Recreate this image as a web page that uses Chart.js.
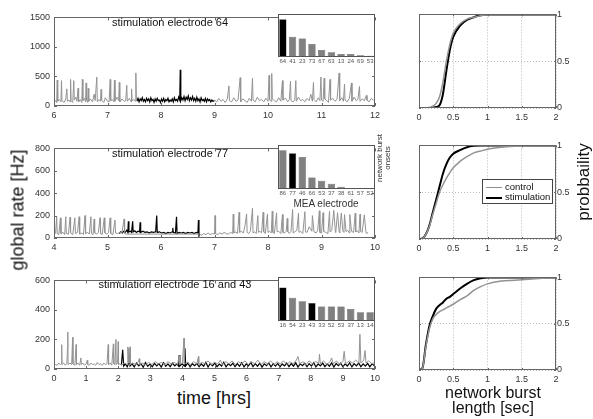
<!DOCTYPE html>
<html>
<head>
<meta charset="utf-8">
<script src="https://cdn.jsdelivr.net/npm/chart.js@4"></script>
<style>
body { margin: 0; background: #fff; width: 593px; height: 419px; overflow: hidden; position: relative; font-family: "Liberation Sans", Arial, sans-serif; }
canvas { position: absolute; }
.lbl { position: absolute; white-space: nowrap; color: #111; }
.rot { transform: translate(-50%, -50%) rotate(-90deg); text-align: center; }
.ctr { transform: translate(-50%, -50%); text-align: center; }
</style>
</head>
<body>
<canvas id="rate1" width="385" height="114" style="left:0;top:8px"></canvas>
<canvas id="rate2" width="385" height="115" style="left:0;top:139px"></canvas>
<canvas id="rate3" width="385" height="114" style="left:0;top:271px"></canvas>
<canvas id="bars1" width="110" height="55" style="left:270px;top:12px"></canvas>
<canvas id="bars2" width="110" height="56" style="left:270px;top:143px"></canvas>
<canvas id="bars3" width="110" height="56" style="left:270px;top:275px"></canvas>
<canvas id="cdf1" width="193" height="116" style="left:400px;top:8px"></canvas>
<canvas id="cdf2" width="193" height="116" style="left:400px;top:139px"></canvas>
<canvas id="cdf3" width="193" height="115" style="left:400px;top:271px"></canvas>

<div class="lbl ctr" style="left:170px;top:22px;font-size:11px">stimulation electrode 64</div>
<div class="lbl ctr" style="left:170px;top:153px;font-size:11px">stimulation electrode 77</div>
<div class="lbl ctr" style="left:175px;top:284px;font-size:11px">stimulation electrode 16 and 43</div>
<div class="lbl rot" style="left:18px;top:210px;font-size:18px">global rate [Hz]</div>
<div class="lbl ctr" style="left:214px;top:398px;font-size:18px">time [hrs]</div>
<div class="lbl ctr" style="left:326px;top:203px;font-size:10px;color:#333">MEA electrode</div>
<div class="lbl rot" style="left:384px;top:158px;font-size:8px;line-height:8px;color:#333">network burst<br>onsets</div>
<div class="lbl rot" style="left:584px;top:182px;font-size:17px">probbaility</div>
<div class="lbl ctr" style="left:493px;top:400px;font-size:16px;line-height:15px">network burst<br>length [sec]</div>
<div class="lbl" style="left:482px;top:179px;width:69px;height:23px;border:1px solid #444;background:#fff;font-size:9.5px">
  <div style="position:absolute;left:3px;top:7px;width:16px;height:0;border-top:1.5px solid #8c8c8c"></div>
  <div style="position:absolute;left:22px;top:1px">control</div>
  <div style="position:absolute;left:3px;top:17px;width:16px;height:0;border-top:2px solid #000"></div>
  <div style="position:absolute;left:22px;top:11px">stimulation</div>
</div>

<script>
// global network rate, electrode 64 session (hours, Hz)
const ctrlTime1 = [6.00,6.03,6.05,6.06,6.07,6.10,6.13,6.14,6.15,6.19,6.22,6.24,6.25,6.28,6.30,6.31,6.32,6.35,6.37,6.38,6.41,6.43,6.45,6.46,6.49,6.52,6.53,6.54,6.57,6.59,6.60,6.61,6.63,6.64,6.65,6.68,6.72,6.75,6.77,6.80,6.81,6.84,6.87,6.88,6.89,6.93,6.96,7.00,7.03,7.05,7.06,7.09,7.12,7.13,7.14,7.18,7.21,7.22,7.23,7.27,7.31,7.34,7.36,7.37,7.41,7.44,7.45,7.46,7.50,7.52,7.53,7.54,7.55,
  9.00,9.04,9.08,9.12,9.16,9.20,9.24,9.27,9.28,9.32,9.36,9.40,9.44,9.48,9.49,9.53,9.57,9.61,9.65,9.69,9.71,9.72,9.76,9.80,9.84,9.88,9.92,9.96,10.00,10.02,10.03,10.06,10.07,10.08,10.12,10.16,10.20,10.24,10.27,10.28,10.33,10.37,10.40,10.42,10.43,10.47,10.50,10.52,10.53,10.57,10.61,10.65,10.69,10.73,10.77,10.80,10.83,10.85,10.86,10.90,10.94,10.97,10.99,11.00,11.03,11.05,11.06,11.10,11.13,11.16,11.17,11.21,11.25,11.29,11.33,11.34,11.38,11.41,11.43,11.44,11.48,11.52,11.56,11.57,11.61,11.65,11.68,11.71,11.72,11.76,11.80,11.84,11.85,11.89,11.93,11.97,12.00];
const ctrlRate1 = [70,90,60,440,80,110,70,430,90,60,120,290,80,100,70,450,90,60,430,100,150,80,300,70,110,60,450,90,130,70,390,100,60,300,80,120,70,200,90,490,70,110,80,280,100,60,140,80,70,450,90,110,70,440,80,150,90,400,70,120,80,90,350,80,130,70,290,90,110,80,560,100,null,
  100,70,130,80,110,60,120,340,90,70,140,80,100,480,70,120,90,60,130,80,470,100,70,150,90,110,70,130,80,520,100,80,550,120,90,70,140,80,430,100,130,70,110,420,90,70,100,430,80,150,90,110,70,130,90,200,80,400,110,70,140,90,490,100,80,470,120,90,60,450,100,130,80,110,560,90,140,80,370,100,70,130,390,80,150,90,110,330,80,120,90,180,100,70,130,100,80];
const stimTime1 = [7.55,7.57,7.59,7.61,7.63,7.65,7.67,7.69,7.71,7.73,7.75,7.77,7.79,7.81,7.83,7.85,7.87,7.89,7.91,7.93,7.95,7.97,7.99,8.01,8.03,8.05,8.07,8.09,8.11,8.13,8.15,8.17,8.19,8.21,8.23,8.25,8.27,8.29,8.31,8.33,8.35,8.36,8.37,8.39,8.41,8.43,8.45,8.47,8.49,8.51,8.53,8.55,8.57,8.59,8.61,8.63,8.65,8.67,8.69,8.71,8.73,8.75,8.77,8.79,8.81,8.83,8.85,8.87,8.89,8.91,8.93,8.95,8.97,9.00];
const stimRate1 = [80,130,70,120,90,140,80,110,70,130,90,120,70,140,90,110,60,120,80,130,90,100,60,120,80,130,70,110,90,130,70,100,80,120,70,140,90,110,80,150,100,615,90,140,100,160,90,150,110,170,90,140,100,160,90,130,80,150,90,120,70,140,90,110,80,130,70,120,90,110,70,100,80,90];

// electrode 77 session
const ctrlTime2 = [4.00,4.03,4.05,4.06,4.09,4.12,4.13,4.17,4.20,4.22,4.23,4.27,4.30,4.31,4.35,4.39,4.40,4.44,4.47,4.48,4.52,4.55,4.58,4.59,4.63,4.66,4.69,4.70,4.73,4.75,4.76,4.80,4.83,4.86,4.87,4.90,4.94,4.95,4.99,5.02,5.05,5.06,5.10,5.14,5.15,5.19,5.23,5.27,5.31,5.32,5.35,
  6.72,6.76,6.80,6.84,6.88,6.92,6.96,7.00,7.01,7.02,7.06,7.10,7.14,7.18,7.22,7.26,7.30,7.34,7.35,7.36,7.40,7.43,7.46,7.47,7.50,7.54,7.57,7.60,7.61,7.64,7.67,7.71,7.72,7.75,7.78,7.81,7.82,7.85,7.88,7.91,7.92,7.95,7.99,8.00,8.03,8.06,8.08,8.09,8.12,8.16,8.17,8.20,8.24,8.27,8.28,8.31,8.34,8.36,8.37,8.40,8.43,8.46,8.47,8.50,8.54,8.57,8.58,8.61,8.65,8.69,8.70,8.73,8.77,8.82,8.83,8.86,8.90,8.93,8.96,8.97,9.00,9.03,9.04,9.08,9.12,9.15,9.16,9.19,9.23,9.26,9.27,9.30,9.33,9.34,9.37,9.40,9.42,9.43,9.46,9.49,9.52,9.53,9.56,9.60,9.63,9.64,9.67,9.70,9.72,9.73,9.76,9.80,9.83,9.84,9.87,9.91,9.92,9.96,10.00];
const ctrlRate2 = [30,45,190,40,30,180,40,50,30,190,40,35,185,45,30,180,40,50,190,35,45,30,200,40,50,35,190,40,30,170,45,35,50,180,40,30,180,45,35,50,180,40,30,160,45,40,50,45,170,40,35,
  35,25,40,30,45,30,40,35,200,40,30,45,35,50,40,35,50,40,212,45,55,40,230,50,60,45,110,215,50,40,60,265,45,55,40,200,50,60,45,230,55,40,215,50,60,45,240,50,40,225,55,60,40,210,50,45,60,175,55,40,60,255,45,55,70,222,50,60,40,235,55,50,100,60,200,55,45,70,243,50,45,226,60,50,40,238,55,65,246,50,70,226,55,45,222,60,50,209,55,70,45,209,60,50,222,55,65,45,212,60,50,206,55,40,50];
const stimTime2 = [5.22,5.25,5.28,5.30,5.33,5.36,5.38,5.39,5.40,5.43,5.45,5.47,5.48,5.51,5.54,5.57,5.60,5.61,5.62,5.66,5.70,5.74,5.78,5.82,5.86,5.90,5.92,5.93,5.97,6.01,6.05,6.09,6.13,6.17,6.21,6.22,6.23,6.27,6.29,6.30,6.34,6.38,6.42,6.46,6.50,6.54,6.58,6.62,6.66,6.69,6.70,6.71,6.72];
const stimRate2 = [40,55,45,60,50,70,50,150,55,60,50,150,55,65,50,60,55,140,50,60,50,55,45,55,50,55,200,50,55,45,50,40,50,45,55,90,50,45,190,40,50,45,50,40,50,45,50,40,50,45,160,20,40];

// electrodes 16 and 43 session
const ctrlTime3 = [0.00,0.05,0.10,0.15,0.20,0.23,0.24,0.25,0.30,0.35,0.40,0.42,0.43,0.44,0.50,0.55,0.58,0.59,0.65,0.69,0.70,0.75,0.80,0.84,0.85,0.90,0.95,1.00,1.04,1.05,1.10,1.15,1.20,1.25,1.30,1.35,1.40,1.45,1.50,1.55,1.60,1.65,1.69,1.70,1.75,1.80,1.85,1.86,1.90,1.93,1.94,1.98,2.00,2.01,2.05,2.10,2.20,2.28,2.30,2.32,2.33,2.35,2.37,2.38,2.45,2.55,2.62,2.66,2.67,2.75,2.85,2.95,3.05,3.15,3.25,3.35,3.45,3.55,3.65,3.75,3.85,3.90,3.91,4.00,4.05,4.06,4.15,4.25,4.35,4.45,4.50,4.51,4.60,4.70,4.80,4.90,5.00,5.10,5.18,5.25,5.35,5.45,5.55,5.65,5.75,5.85,5.95,6.05,6.15,6.25,6.35,6.45,6.55,6.65,6.75,6.85,6.95,7.05,7.15,7.25,7.35,7.45,7.55,7.60,7.65,7.75,7.85,7.95,8.05,8.15,8.25,8.27,8.30,8.40,8.50,8.60,8.65,8.70,8.80,8.90,9.00,9.04,9.08,9.20,9.30,9.40,9.50,9.53,9.56,9.65,9.69,9.72,9.80,9.90,10.00];
const ctrlRate3 = [20,30,25,40,30,35,165,30,40,25,35,140,250,30,40,30,215,35,25,165,30,40,25,75,30,40,25,35,60,30,25,40,30,35,25,45,30,35,25,40,30,35,165,30,40,25,170,35,30,200,30,40,185,30,35,25,40,30,150,40,140,40,150,30,40,30,45,70,30,40,30,45,30,50,35,45,30,50,35,45,30,90,30,40,210,35,45,30,50,35,85,30,45,35,55,30,45,35,60,30,50,35,55,30,50,35,55,30,50,35,60,30,50,35,55,30,50,35,55,30,50,35,60,85,35,50,30,55,35,50,40,100,35,55,30,50,75,35,55,30,50,120,35,55,40,60,40,235,40,60,125,40,55,35,45];
const stimTime3 = [2.10,2.14,2.17,2.22,2.28,2.33,2.35,2.37,2.43,2.50,2.57,2.64,2.71,2.78,2.85,2.92,2.99,3.06,3.13,3.20,3.27,3.34,3.41,3.48,3.55,3.62,3.69,3.76,3.83,3.88,3.90,3.92,3.99,4.06,4.08,4.10,4.17,4.24,4.31,4.38,4.45,4.52,4.59,4.66,4.73,4.80,4.87,4.94,5.01,5.08,5.15,5.22,5.29,5.36,5.43,5.50,5.57,5.64,5.71,5.78,5.85,5.92,5.99,6.06,6.13,6.20,6.27,6.34,6.41,6.48,6.55,6.62,6.69,6.76,6.83,6.90,6.97,7.04,7.11,7.18,7.25,7.32,7.39,7.46,7.53,7.60,7.67,7.74,7.81,7.88,7.95,8.02,8.09,8.16,8.23,8.30,8.37,8.44,8.51,8.58,8.65,8.72,8.79,8.86,8.93,9.00,9.07,9.14,9.21,9.28,9.35,9.42,9.49,9.56,9.63,9.70,9.77,9.84,9.91,9.98,10.00];
const stimRate3 = [30,130,20,35,15,40,100,20,35,14,41,22,36,12,44,19,33,15,38,21,36,13,42,18,35,16,40,21,34,20,95,20,35,20,140,20,41,14,36,22,38,15,34,19,45,13,37,21,40,16,33,20,46,14,35,22,39,15,37,18,42,14,34,21,45,16,36,19,40,13,35,22,41,15,36,20,38,14,34,21,40,16,37,19,42,13,35,22,39,15,36,20,43,14,34,21,40,16,35,19,41,13,37,22,39,15,34,20,42,14,36,21,40,16,35,19,38,14,36,20,30];

// network burst onsets per MEA electrode
const onsetElec1 = ['64','41','23','73','67','63','13','24','69','53'];
const onsetCount1 = [88,47,43,30,16,11,7,7,4,3];
const stimElec1 = ['64'];
const onsetElec2 = ['86','77','46','66','53','37','38','61','57','52'];
const onsetCount2 = [88,81,73,26,19,12,5,2,2,2];
const stimElec2 = ['77'];
const onsetElec3 = ['16','54','23','43','33','52','53','37','13','14'];
const onsetCount3 = [76,53,45,41,33,33,33,27,20,20];
const stimElec3 = ['16','43'];

// cumulative distribution of network burst length (sec)
const burstLen = [0,0.05,0.1,0.15,0.2,0.25,0.3,0.35,0.4,0.45,0.5,0.6,0.7,0.8,0.9,1.0,1.2,1.4,1.6,1.8,2.0];
const cdfCtrl1 = [0,0,0,0.005,0.02,0.05,0.12,0.28,0.5,0.68,0.8,0.9,0.95,0.97,0.985,0.995,1,1,1,1,1];
const cdfStim1 = [0,0,0,0,0.005,0.01,0.03,0.15,0.4,0.62,0.76,0.88,0.94,0.97,0.99,1,1,1,1,1,1];
const cdfCtrl2 = [0,0.005,0.05,0.13,0.26,0.38,0.5,0.58,0.65,0.71,0.76,0.83,0.88,0.92,0.94,0.96,0.98,0.99,0.995,1,1];
const cdfStim2 = [0,0.005,0.05,0.14,0.28,0.42,0.56,0.7,0.8,0.87,0.91,0.95,0.98,0.995,1,1,1,1,1,1,1];
const cdfCtrl3 = [0,0.02,0.25,0.44,0.55,0.6,0.63,0.65,0.67,0.69,0.71,0.76,0.8,0.86,0.9,0.93,0.96,0.97,0.98,0.99,1];
const cdfStim3 = [0,0.02,0.27,0.47,0.58,0.66,0.7,0.73,0.77,0.79,0.82,0.88,0.93,0.97,0.99,1,1,1,1,1,1];

const GRAY = '#939393';
const GRID = '#b8b8b8';
const FONT = 'Liberation Sans, Arial, sans-serif';
const plain = v => String(v);

// box around the plot area with inward tick marks, optional white fill
const framePlugin = {
  id: 'frame',
  beforeDraw(chart, args, opts) {
    if (!opts.fill) return;
    const { ctx, chartArea: a } = chart;
    ctx.save();
    ctx.fillStyle = opts.fill;
    ctx.fillRect(a.left, a.top, a.right - a.left, a.bottom - a.top);
    ctx.restore();
  },
  afterDraw(chart, args, opts) {
    const { ctx, chartArea: a, scales } = chart;
    ctx.save();
    ctx.strokeStyle = opts.color || '#666';
    ctx.lineWidth = 1;
    ctx.strokeRect(Math.round(a.left) + 0.5, Math.round(a.top) + 0.5, Math.round(a.right - a.left) - 1, Math.round(a.bottom - a.top) - 1);
    const L = opts.tickLen || 0;
    if (L) {
      ctx.beginPath();
      scales.x.ticks.forEach((t, i) => {
        const px = Math.round(scales.x.getPixelForTick(i)) + 0.5;
        ctx.moveTo(px, a.bottom); ctx.lineTo(px, a.bottom - L);
        ctx.moveTo(px, a.top); ctx.lineTo(px, a.top + L);
      });
      scales.y.ticks.forEach((t, i) => {
        const py = Math.round(scales.y.getPixelForTick(i)) + 0.5;
        ctx.moveTo(a.left, py); ctx.lineTo(a.left + L, py);
        ctx.moveTo(a.right, py); ctx.lineTo(a.right - L, py);
      });
      ctx.stroke();
    }
    ctx.restore();
  }
};

function pts(xs, ys) {
  return xs.map((x, i) => ({ x: x, y: ys[i] }));
}

function rateChart(id, ctrlT, ctrlR, stimT, stimR, xmin, xmax, ymax, ystep) {
  new Chart(document.getElementById(id), {
    type: 'line',
    data: {
      datasets: [
        { data: pts(ctrlT, ctrlR), borderColor: GRAY, borderWidth: 1 },
        { data: pts(stimT, stimR), borderColor: '#000', borderWidth: 1.2 }
      ]
    },
    options: {
      responsive: false,
      animation: false,
      parsing: false,
      spanGaps: false,
      elements: { point: { radius: 0 }, line: { tension: 0 } },
      layout: { padding: { left: 0, right: 10, top: 6, bottom: 0 } },
      plugins: { legend: { display: false }, tooltip: { enabled: false }, frame: { tickLen: 3 } },
      scales: {
        x: {
          type: 'linear', min: xmin, max: xmax,
          grid: { display: false, drawTicks: false }, border: { display: false },
          ticks: { stepSize: 1, padding: 4, color: '#333', font: { family: FONT, size: 9 }, callback: plain },
          afterFit(s) { s.height = 16; }
        },
        y: {
          min: 0, max: ymax,
          grid: { display: false, drawTicks: false }, border: { display: false },
          ticks: { stepSize: ystep, padding: 4, color: '#333', font: { family: FONT, size: 9 }, callback: plain },
          afterFit(s) { s.width = 54; }
        }
      }
    },
    plugins: [framePlugin]
  });
}

function onsetChart(id, elec, counts, stim) {
  new Chart(document.getElementById(id), {
    type: 'bar',
    data: {
      labels: elec,
      datasets: [{
        data: counts,
        backgroundColor: elec.map(e => stim.includes(e) ? '#000' : '#808080'),
        borderColor: '#333',
        borderWidth: 0.5,
        barPercentage: 0.75,
        categoryPercentage: 1
      }]
    },
    options: {
      responsive: false,
      animation: false,
      layout: { padding: { left: 8, right: 5, top: 2, bottom: 0 } },
      plugins: { legend: { display: false }, tooltip: { enabled: false }, frame: { fill: '#fff', color: '#555' } },
      scales: {
        x: {
          grid: { display: false, drawTicks: false }, border: { display: false },
          ticks: { autoSkip: false, maxRotation: 0, padding: 1, color: '#555', font: { family: FONT, size: 6 } },
          afterFit(s) { s.height = 10; }
        },
        y: { display: false, min: 0, max: 100 }
      }
    },
    plugins: [framePlugin]
  });
}

function cdfChart(id, ctrl, stim) {
  new Chart(document.getElementById(id), {
    type: 'line',
    data: {
      datasets: [
        { data: pts(burstLen, ctrl), borderColor: GRAY, borderWidth: 1.5 },
        { data: pts(burstLen, stim), borderColor: '#000', borderWidth: 2 }
      ]
    },
    options: {
      responsive: false,
      animation: false,
      parsing: false,
      elements: { point: { radius: 0 }, line: { cubicInterpolationMode: 'monotone' } },
      layout: { padding: { left: 19, right: 0, top: 6, bottom: 0 } },
      plugins: { legend: { display: false }, tooltip: { enabled: false }, frame: { tickLen: 2 } },
      scales: {
        x: {
          type: 'linear', min: 0, max: 2,
          grid: { color: GRID, drawTicks: false }, border: { display: false, dash: [1, 2] },
          ticks: { stepSize: 0.5, padding: 4, color: '#333', font: { family: FONT, size: 9 }, callback: plain },
          afterFit(s) { s.height = 16; }
        },
        y: {
          position: 'right', min: 0, max: 1,
          grid: { color: GRID, drawTicks: false }, border: { display: false, dash: [1, 2] },
          ticks: { stepSize: 0.5, padding: 1, color: '#333', font: { family: FONT, size: 9 }, callback: plain },
          afterFit(s) { s.width = 37; }
        }
      }
    },
    plugins: [framePlugin]
  });
}

rateChart('rate1', ctrlTime1, ctrlRate1, stimTime1, stimRate1, 6, 12, 1500, 500);
rateChart('rate2', ctrlTime2, ctrlRate2, stimTime2, stimRate2, 4, 10, 800, 200);
rateChart('rate3', ctrlTime3, ctrlRate3, stimTime3, stimRate3, 0, 10, 600, 200);
onsetChart('bars1', onsetElec1, onsetCount1, stimElec1);
onsetChart('bars2', onsetElec2, onsetCount2, stimElec2);
onsetChart('bars3', onsetElec3, onsetCount3, stimElec3);
cdfChart('cdf1', cdfCtrl1, cdfStim1);
cdfChart('cdf2', cdfCtrl2, cdfStim2);
cdfChart('cdf3', cdfCtrl3, cdfStim3);
</script>
</body>
</html>
